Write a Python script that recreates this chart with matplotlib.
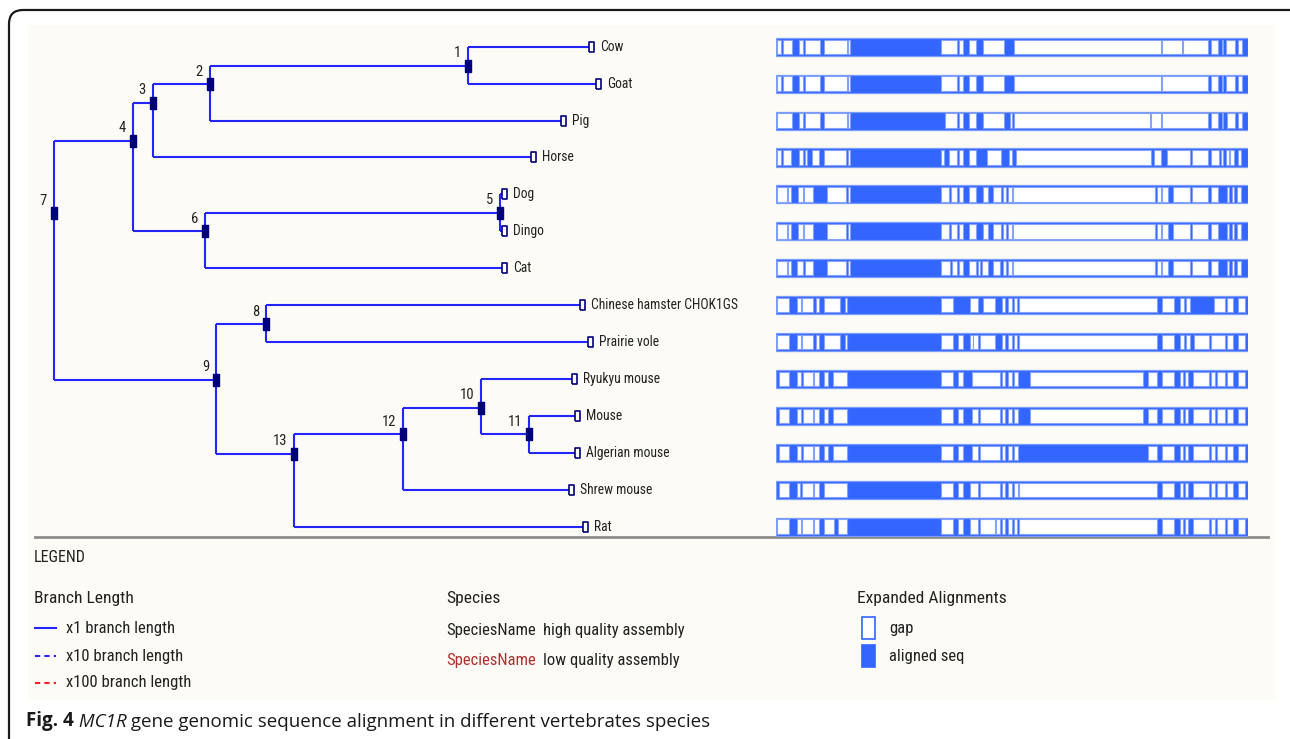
import matplotlib
matplotlib.use('Agg')
import matplotlib.pyplot as plt
from matplotlib import font_manager
from matplotlib.font_manager import FontProperties
from matplotlib.patches import FancyBboxPatch, Rectangle
from matplotlib.lines import Line2D

# leaves, top to bottom
species = ['Cow', 'Goat', 'Pig', 'Horse', 'Dog', 'Dingo', 'Cat',
           'Chinese hamster CHOK1GS', 'Prairie vole', 'Ryukyu mouse', 'Mouse',
           'Algerian mouse', 'Shrew mouse', 'Rat']

# tree: child -> (parent, branch length)
edges = {
    '4': ('7', 79), '9': ('7', 162),
    '3': ('4', 20), '6': ('4', 72),
    '2': ('3', 57), 'Horse': ('3', 378),
    '1': ('2', 258), 'Pig': ('2', 351),
    'Cow': ('1', 121), 'Goat': ('1', 128),
    '5': ('6', 295), 'Cat': ('6', 297),
    'Dog': ('5', 2), 'Dingo': ('5', 2),
    '8': ('9', 50), '13': ('9', 78),
    'Chinese hamster CHOK1GS': ('8', 314), 'Prairie vole': ('8', 322),
    '12': ('13', 109), 'Rat': ('13', 289),
    '10': ('12', 78), 'Shrew mouse': ('12', 166),
    'Ryukyu mouse': ('10', 91), '11': ('10', 48),
    'Mouse': ('11', 46), 'Algerian mouse': ('11', 46),
}
root = '7'

# vertical position of internal nodes (in rows)
node_row = {'1': 0.52, '2': 1.02, '3': 1.52, '4': 2.55, '5': 4.5, '6': 5.0,
            '7': 4.51, '8': 7.52, '9': 9.02, '10': 9.78, '11': 10.5,
            '12': 10.5, '13': 11.02}

# expanded alignment: total columns and gap intervals per species
aln_len = 472
gaps = {
    'Cow': [(1, 5), (7, 16), (23, 27), (29, 44), (48, 71), (72, 74), (165, 181), (183, 187),
            (193, 200), (207, 228), (238, 385), (386, 406), (407, 432), (435, 442),
            (446, 447), (450, 459), (462, 466)],
    'Goat': [(1, 5), (7, 16), (23, 27), (29, 44), (48, 71), (72, 74), (165, 181), (183, 187),
             (193, 200), (207, 228), (238, 385), (386, 432), (435, 442), (446, 447),
             (450, 459), (462, 466)],
    'Pig': [(1, 16), (23, 27), (29, 44), (48, 71), (72, 74), (169, 181), (183, 187), (193, 200),
            (207, 228), (234, 236), (238, 374), (375, 385), (386, 432), (435, 442),
            (446, 447), (451, 459), (462, 466)],
    'Horse': [(1, 5), (7, 15), (23, 27), (29, 31), (36, 43), (48, 70), (72, 74), (165, 168),
              (173, 181), (183, 187), (193, 200), (211, 225), (233, 236), (240, 375),
              (378, 385), (391, 414), (416, 432), (435, 443), (445, 447), (450, 453),
              (454, 458), (462, 465)],
    'Dog': [(1, 11), (12, 15), (22, 27), (28, 37), (51, 70), (72, 74), (165, 173), (175, 181),
            (183, 187), (193, 200), (207, 212), (217, 225), (227, 230), (232, 236),
            (237, 379), (381, 385), (386, 392), (397, 414), (416, 432), (435, 442),
            (451, 453), (456, 458), (461, 465)],
    'Dingo': [(1, 11), (12, 15), (22, 27), (28, 37), (51, 70), (72, 74), (165, 173), (175, 181),
              (183, 187), (193, 200), (207, 212), (217, 225), (227, 230), (232, 236),
              (237, 379), (381, 385), (386, 392), (397, 414), (416, 432), (435, 442),
              (451, 453), (456, 458), (461, 465)],
    'Cat': [(1, 11), (12, 15), (21, 27), (29, 37), (51, 70), (72, 74), (165, 174), (176, 181),
            (183, 187), (193, 200), (202, 204), (206, 212), (217, 224), (227, 230),
            (232, 236), (237, 379), (381, 385), (386, 392), (397, 414), (416, 432),
            (435, 442), (451, 453), (456, 458), (461, 465)],
    'Chinese hamster CHOK1GS': [(1, 13), (21, 25), (26, 37), (40, 43), (48, 64), (69, 71),
                                (165, 177), (194, 202), (207, 219), (226, 229), (232, 236),
                                (238, 241), (243, 381), (386, 398), (404, 408), (410, 414),
                                (438, 449), (451, 457), (462, 469)],
    'Prairie vole': [(1, 13), (21, 25), (26, 37), (40, 43), (48, 64), (69, 71), (165, 177),
                     (182, 187), (194, 197), (197, 202), (204, 219), (226, 229), (232, 236),
                     (238, 241), (243, 381), (386, 398), (404, 408), (410, 414), (418, 433),
                     (435, 449), (451, 457), (462, 469)],
    'Ryukyu mouse': [(3, 13), (21, 25), (27, 37), (38, 43), (48, 52), (57, 71), (165, 177),
                     (182, 187), (196, 224), (226, 229), (232, 236), (238, 242), (254, 367),
                     (372, 381), (386, 398), (404, 407), (409, 412), (417, 433), (435, 439),
                     (441, 449), (451, 457), (462, 469)],
    'Mouse': [(3, 13), (21, 25), (27, 37), (38, 43), (48, 52), (57, 71), (165, 177), (182, 187),
              (196, 202), (204, 224), (226, 229), (232, 236), (238, 242), (254, 367),
              (372, 381), (386, 398), (404, 407), (409, 412), (417, 433), (435, 439),
              (441, 449), (451, 457), (462, 469)],
    'Algerian mouse': [(3, 13), (21, 25), (27, 37), (38, 43), (48, 52), (57, 71), (165, 177),
                       (182, 187), (196, 202), (204, 224), (226, 229), (232, 236), (238, 242),
                       (372, 381), (386, 398), (404, 407), (409, 412), (417, 433), (435, 439),
                       (441, 449), (451, 457), (462, 469)],
    'Shrew mouse': [(3, 13), (21, 24), (26, 37), (38, 43), (48, 71), (165, 177), (182, 187),
                    (194, 202), (204, 224), (226, 229), (232, 236), (238, 242), (243, 381),
                    (386, 398), (404, 407), (409, 412), (417, 433), (435, 439), (441, 449),
                    (451, 457), (462, 469)],
    'Rat': [(1, 13), (21, 25), (26, 37), (38, 43), (48, 58), (62, 71), (165, 177), (182, 187),
            (194, 202), (204, 219), (220, 224), (226, 229), (232, 236), (238, 241), (243, 381),
            (386, 398), (404, 407), (409, 412), (417, 433), (435, 439), (441, 449),
            (451, 457), (462, 469)],
}

LINE = '#2424ff'
NODE = '#00007a'
ALN = '#3366ff'


def narrow_font():
    # look for an upright narrow sans; fall back to plain DejaVu Sans, drawn smaller
    fonts = [f for f in font_manager.fontManager.ttflist
             if f.style == 'normal' and f.weight in (400, 'normal', 'regular', 'book')]
    for f in fonts:
        if f.name in ('Liberation Sans Narrow', 'Roboto Condensed', 'Open Sans Condensed',
                      'DejaVu Sans Condensed', 'Noto Sans Condensed'):
            return FontProperties(fname=f.fname), 1.0
    for f in fonts:
        if f.name in ('DejaVu Sans', 'Noto Sans', 'Open Sans', 'Roboto') and \
                str(f.stretch) in ('condensed', 'semi-condensed', 'extra-condensed'):
            return FontProperties(fname=f.fname), 1.0
    return FontProperties(family='DejaVu Sans'), 0.82


NARROW, SCALE = narrow_font()


def nfont(size):
    fp = NARROW.copy()
    fp.set_size(size * SCALE)
    return fp


W, H = 1290, 739
fig = plt.figure(figsize=(W / 100, H / 100), dpi=100)

# background / frame, pixel coordinates
bg = fig.add_axes([0, 0, 1, 1])
bg.set_xlim(0, W)
bg.set_ylim(H, 0)
bg.axis('off')
bg.add_patch(FancyBboxPatch((9, 10), 1320, 780, boxstyle='round,pad=0,rounding_size=14',
                            fc='white', ec='#1a1a1a', lw=1.6))
bg.add_patch(Rectangle((28, 25), 1247, 675, fc='#fcfbf6', ec='none'))
bg.plot([35, 1268], [537, 537], color='#8c8c8c', lw=2)


def px_axes(x0, x1, y0, y1):
    return fig.add_axes([x0 / W, 1 - y1 / H, (x1 - x0) / W, (y1 - y0) / H])


row_top, row_bot = -0.588, 13.28

# ---- tree ----
depth = {root: 0.0}


def get_depth(n):
    if n not in depth:
        p, bl = edges[n]
        depth[n] = get_depth(p) + bl
    return depth[n]


for n in edges:
    get_depth(n)
ypos = dict(node_row)
for i, s in enumerate(species):
    ypos[s] = i

children = {}
for c, (p, _) in edges.items():
    children.setdefault(p, []).append(c)

tx = px_axes(28, 760, 25, 537)
tx.set_xlim(-26, 706)
tx.set_ylim(row_bot, row_top)
tx.axis('off')
tx.patch.set_alpha(0)

for p, ch in children.items():
    ys = [ypos[c] for c in ch] + [ypos[p]]
    tx.plot([depth[p], depth[p]], [min(ys), max(ys)], color=LINE, lw=1.5, solid_capstyle='butt')
    for c in ch:
        tx.plot([depth[p], depth[c]], [ypos[c], ypos[c]], color=LINE, lw=1.5,
                solid_capstyle='butt')

node_marker = [(-0.3, -0.5), (0.3, -0.5), (0.3, 0.5), (-0.3, 0.5), (-0.3, -0.5)]
leaf_marker = [(0, -0.5), (0.55, -0.5), (0.55, 0.5), (0, 0.5), (0, -0.5)]
for n in node_row:
    tx.plot(depth[n], ypos[n], marker=node_marker, ms=8, color=NODE, mec=NODE, zorder=5)
    tx.annotate(n, (depth[n], ypos[n]), xytext=(-5, 4), textcoords='offset points',
                ha='right', va='bottom', fontproperties=nfont(10.5), color='#222222')
for s in species:
    tx.plot(depth[s], ypos[s], marker=leaf_marker, ms=7.5, mfc='white', mec=NODE,
            mew=1.2, zorder=5)
    tx.annotate(s, (depth[s], ypos[s]), xytext=(8, 0), textcoords='offset points',
                ha='left', va='center', fontproperties=nfont(9.8), color='#222222')

# ---- alignment ----
ax = px_axes(776, 1248, 25, 537)
ax.set_xlim(0, aln_len)
ax.set_ylim(row_bot, row_top)
ax.axis('off')
ax.patch.set_alpha(0)
for i, s in enumerate(species):
    ax.barh(i, aln_len, left=0, height=0.49, color=ALN, edgecolor='#7a9bff', lw=0.9)
    for a, b in gaps[s]:
        ax.barh(i, b - a, left=a, height=0.39, color='white', edgecolor='#85a2ff', lw=0.8)

# ---- legend ----
ink = '#222222'
head, body = nfont(12.6), nfont(12)
bg.text(34, 557, 'LEGEND', fontproperties=nfont(11.5), color=ink, va='center')
bg.text(34, 599, 'Branch Length', fontproperties=head, color=ink, va='center')
bg.text(66, 628, 'x1 branch length', fontproperties=body, color=ink, va='center')
bg.text(66, 656, 'x10 branch length', fontproperties=body, color=ink, va='center')
bg.text(66, 683, 'x100 branch length', fontproperties=body, color=ink, va='center')
bg.add_line(Line2D([35, 56], [628, 628], color=LINE, lw=1.5))
bg.add_line(Line2D([35, 56], [656, 656], color=LINE, lw=1.5, ls=(0, (2.5, 2))))
bg.add_line(Line2D([35, 56], [683, 683], color='#ff2020', lw=1.5, ls=(0, (2.5, 2))))

bg.text(446, 599, 'Species', fontproperties=head, color=ink, va='center')
bg.text(446, 630, 'SpeciesName', fontproperties=body, color=ink, va='center')
bg.text(543, 630, 'high quality assembly', fontproperties=body, color=ink, va='center')
bg.text(446, 660, 'SpeciesName', fontproperties=body, color='#b03030', va='center')
bg.text(543, 661, 'low quality assembly', fontproperties=body, color=ink, va='center')

bg.text(857, 599, 'Expanded Alignments', fontproperties=head, color=ink, va='center')
bg.add_patch(Rectangle((862, 617), 13, 22, fc='white', ec=ALN, lw=1.2))
bg.add_patch(Rectangle((862, 645), 13, 22, fc=ALN, ec=ALN, lw=1.2))
bg.text(889, 628, 'gap', fontproperties=body, color=ink, va='center')
bg.text(889, 656, 'aligned seq', fontproperties=body, color=ink, va='center')

# ---- caption ----
cap = dict(family=['Open Sans', 'DejaVu Sans'], fontsize=13.5, color='#1a1a1a', va='bottom')
t1 = bg.text(26, 731, 'Fig. 4', fontweight='bold', **cap)
t2 = bg.annotate(' MC1R', xy=(1, 0), xycoords=t1, fontstyle='italic', **cap)
bg.annotate(' gene genomic sequence alignment in different vertebrates species',
            xy=(1, 0), xycoords=t2, **cap)

fig.savefig('out.png', dpi=100)
